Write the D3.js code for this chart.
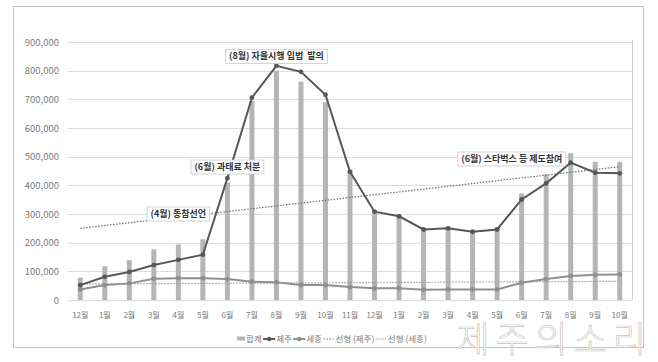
<!DOCTYPE html>
<html>
<head>
<meta charset="utf-8">
<script src="https://cdn.jsdelivr.net/npm/d3@7"></script>
<style>
  body { margin: 0; background: #fff; }
  svg { display: block; font-family: "Noto Sans CJK KR", "Noto Sans", sans-serif; }
  .note { white-space: pre; }
</style>
</head>
<body>
<svg id="chart" width="658" height="362"></svg>
<script>
// months Dec 2019 .. Oct 2021
const months = ["12월","1월","2월","3월","4월","5월","6월","7월","8월","9월","10월","11월",
                "12월","1월","2월","3월","4월","5월","6월","7월","8월","9월","10월"]
const totalVals = [78000,118000,139000,177000,194000,212000,410000,695000,800000,762000,690000,452000,
                   314000,300000,250000,256000,244000,253000,372000,438000,512000,482000,482000]
const jejuVals = [52000,81000,98000,122000,140000,158000,425000,706000,817000,796000,716000,447000,
                  308000,292000,246000,250000,238000,246000,351000,407000,479000,444000,442000]
const sejongVals = [37000,52000,58000,74000,76000,76000,73000,64000,62000,52000,52000,45000,
                    41000,41000,36000,37000,37000,37000,60000,73000,84000,88000,89000]
// dotted linear trend lines, first and last month values
const jejuTrend = [250000, 465000]
const sejongTrend = [56000, 65000]
const yTicks = [0,100000,200000,300000,400000,500000,600000,700000,800000,900000]
const notes = [
  {text: "(8월) 자율시행 입법  발의", at: 8, value: 850000},
  {text: "(6월) 과태료 처분", at: 6, value: 464000},
  {text: "(4월) 동참선언", at: 4, value: 300000},
  {text: "(6월) 스타벅스 등 제도참여", at: 17.6, value: 492000}
]

var margin = {top: 42, right: 26, bottom: 62, left: 68},
    W = 658, H = 362

const svg = d3.select("#chart")

// chart frame
svg.append("rect")
  .attr("x", 13.5).attr("y", 6.5).attr("width", 630).attr("height", 341)
  .attr("fill", "none").attr("stroke", "#c4c4c4")

const idx = d3.range(months.length)
const x = d3.scaleBand().domain(idx).range([margin.left, W - margin.right])
const xc = i => x.range()[0] + x.step() * (i + 0.5)
const y = d3.scaleLinear().domain([0, 900000]).range([H - margin.bottom, margin.top])

// gridlines
svg.append("g").selectAll("line").data(yTicks).join("line")
  .attr("x1", margin.left).attr("x2", W - margin.right)
  .attr("y1", d => Math.round(y(d)) + 0.5).attr("y2", d => Math.round(y(d)) + 0.5)
  .attr("stroke", "#dcdcdc")
// plot area right edge
svg.append("line")
  .attr("x1", W - margin.right + 0.5).attr("x2", W - margin.right + 0.5)
  .attr("y1", margin.top - 2).attr("y2", y(0))
  .attr("stroke", "#cfcfcf")

// y axis
const yAxis = svg.append("g")
  .attr("transform", "translate(" + (margin.left - 6) + ",0)")
  .call(d3.axisLeft(y).tickValues(yTicks).tickFormat(d3.format(",")).tickSize(0))
yAxis.select(".domain").remove()
yAxis.selectAll("text").attr("fill", "#7a7a7a").attr("font-size", 9.5)
  .attr("font-family", "Noto Sans CJK KR")

// x axis
const xAxis = svg.append("g")
  .attr("transform", "translate(0," + y(0) + ")")
  .call(d3.axisBottom(x).tickFormat(i => months[i]).tickSize(0).tickPadding(12))
xAxis.select(".domain").remove()
xAxis.selectAll("text").attr("fill", "#7a7a7a").attr("font-size", 8)
  .attr("font-family", "Noto Sans CJK KR")

// bars (합계)
svg.append("g").selectAll("rect").data(totalVals).join("rect")
  .attr("x", (d, i) => xc(i) - 2.5)
  .attr("y", d => y(d))
  .attr("width", 5)
  .attr("height", d => y(0) - y(d))
  .attr("fill", "#b5b5b5")

// trend lines
function trend(vals, color) {
  svg.append("line")
    .attr("x1", xc(0)).attr("x2", xc(months.length - 1))
    .attr("y1", y(vals[0])).attr("y2", y(vals[1]))
    .attr("stroke", color).attr("stroke-width", 1.2)
    .attr("stroke-dasharray", "1.5,1.5")
}
trend(jejuTrend, "#6e6e6e")
trend(sejongTrend, "#9a9a9a")

// lines with markers
function series(vals, color) {
  const line = d3.line().x((d, i) => xc(i)).y(d => y(d))
  svg.append("path").datum(vals)
    .attr("d", line).attr("fill", "none")
    .attr("stroke", color).attr("stroke-width", 2)
  svg.append("g").selectAll("circle").data(vals).join("circle")
    .attr("cx", (d, i) => xc(i)).attr("cy", d => y(d)).attr("r", 2.4)
    .attr("fill", color)
}
series(sejongVals, "#8f8f8f")
series(jejuVals, "#575757")

// annotations
notes.forEach(n => {
  const g = svg.append("g").attr("transform", "translate(" + xc(n.at) + "," + y(n.value) + ")")
  const t = g.append("text").attr("class", "note").text(n.text)
    .attr("text-anchor", "middle").attr("dy", "0.35em")
    .attr("font-size", 9).attr("fill", "#333").attr("font-weight", "bold")
  const w = t.node().getComputedTextLength()
  g.insert("rect", "text")
    .attr("x", -w / 2 - 3.5).attr("y", -7).attr("width", w + 7).attr("height", 14)
    .attr("fill", "#fff").attr("stroke", "#c8c8c8").attr("stroke-width", 0.8)
})

// legend
const legendItems = [
  {name: "합계", kind: "bar", color: "#b5b5b5"},
  {name: "제주", kind: "line", color: "#575757"},
  {name: "세종", kind: "line", color: "#8f8f8f"},
  {name: "선형 (제주)", kind: "dot", color: "#6e6e6e"},
  {name: "선형 (세종)", kind: "dot", color: "#9a9a9a"}
]
const lg = svg.append("g").attr("transform", "translate(237,339)")
let lx = 0
legendItems.forEach(it => {
  if (it.kind === "bar") {
    lg.append("rect").attr("x", lx).attr("y", -2.5).attr("width", 8).attr("height", 4).attr("fill", it.color)
    lx += 9
  } else if (it.kind === "line") {
    lg.append("line").attr("x1", lx).attr("x2", lx + 12).attr("y1", 0).attr("y2", 0)
      .attr("stroke", it.color).attr("stroke-width", 2)
    lg.append("circle").attr("cx", lx + 6).attr("cy", 0).attr("r", 2.3).attr("fill", it.color)
    lx += 13
  } else {
    lg.append("line").attr("x1", lx).attr("x2", lx + 10).attr("y1", 0).attr("y2", 0)
      .attr("stroke", it.color).attr("stroke-width", 1.2).attr("stroke-dasharray", "1.5,1.5")
    lx += 12
  }
  const t = lg.append("text").text(it.name).attr("x", lx).attr("dy", "0.35em")
    .attr("font-size", 8.5).attr("fill", "#7a7a7a")
  lx += t.node().getComputedTextLength() + 1.5
})

// watermark
svg.append("text").text("제주의소리")
  .attr("x", 652).attr("y", 353).attr("text-anchor", "end")
  .attr("font-size", 36).attr("letter-spacing", 6).attr("font-weight", 300)
  .attr("fill", "#fff").attr("stroke", "#c6c6c6").attr("stroke-width", 0.7)
</script>
</body>
</html>
